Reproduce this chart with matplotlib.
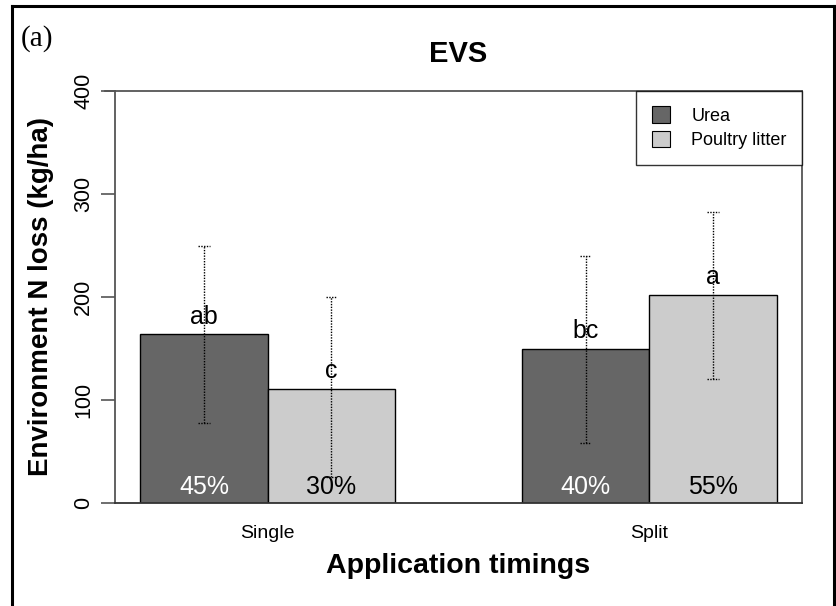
import matplotlib
matplotlib.use("Agg")
import matplotlib.pyplot as plt
from matplotlib.lines import Line2D
from matplotlib.patches import Patch

# Data
timings = ["Single", "Split"]
fertilizers = ["Urea", "Poultry litter"]
urea_mean = [164, 150]
litter_mean = [111, 202]
urea_low = [78, 58]
urea_high = [250, 240]
litter_low = [25, 120]
litter_high = [200, 283]
urea_letters = ["ab", "bc"]
litter_letters = ["c", "a"]
urea_share = ["45%", "40%"]
litter_share = ["30%", "55%"]
y_ticks = [0, 100, 200, 300, 400]

plt.rcParams["font.family"] = ["Liberation Sans", "DejaVu Sans"]

W, H = 836, 606
fig = plt.figure(figsize=(W / 100, H / 100), dpi=100)
ax = fig.add_axes([115 / W, 1 - 503 / H, (802 - 115) / W, (503 - 91) / H])

urea_col = "#666666"
litter_col = "#cccccc"
bw = 1.0
# R-style beside barplot: bars start at 1, one-bar gap between groups
urea_x = [1.5 + 3 * i for i in range(len(timings))]
litter_x = [x + bw for x in urea_x]

ax.bar(urea_x, urea_mean, width=bw, color=urea_col, edgecolor="black", linewidth=1.0, zorder=2)
ax.bar(litter_x, litter_mean, width=bw, color=litter_col, edgecolor="black", linewidth=1.0, zorder=2)

cap = 0.045
dots = (0, (1.0, 1.0))
for xs, lo, hi in ((urea_x, urea_low, urea_high), (litter_x, litter_low, litter_high)):
    ax.vlines(xs, lo, hi, colors="black", linestyles=[dots], linewidth=1.0, zorder=3)
    ax.hlines(lo, [x - cap for x in xs], [x + cap for x in xs], colors="black",
              linestyles=[dots], linewidth=1.0, zorder=3)
    ax.hlines(hi, [x - cap for x in xs], [x + cap for x in xs], colors="black",
              linestyles=[dots], linewidth=1.0, zorder=3)

for x, v, t in zip(urea_x, urea_mean, urea_letters):
    ax.text(x, v + 17, t, ha="center", va="center", fontsize=18, color="black", zorder=4)
for x, v, t in zip(litter_x, litter_mean, litter_letters):
    ax.text(x, v + 17, t, ha="center", va="center", fontsize=18, color="black", zorder=4)

for x, t in zip(urea_x, urea_share):
    ax.text(x, 16, t, ha="center", va="center", fontsize=18, color="white", zorder=4)
for x, t in zip(litter_x, litter_share):
    ax.text(x, 16, t, ha="center", va="center", fontsize=18, color="black", zorder=4)

ax.set_xlim(0.8, 6.2)
ax.set_ylim(0, 400)
ax.set_yticks(y_ticks)
ax.set_yticklabels([str(v) for v in y_ticks], rotation=90, va="center", fontsize=15.5)
group_centers = [(u + l) / 2 for u, l in zip(urea_x, litter_x)]
ax.set_xticks(group_centers)
ax.set_xticklabels(timings, fontsize=14)
ax.tick_params(axis="x", length=0, pad=16)
ax.tick_params(axis="y", length=10, width=1.2, color="#555555", pad=5)
for s in ax.spines.values():
    s.set_color("#555555")
    s.set_linewidth(1.3)
ax.spines["bottom"].set_color("#333333")

# carry the top box line over the tick length
ax.plot([-10 / 127 * 1.0 + 0.8, 0.8], [400, 400], color="#555555", lw=1.3, clip_on=False)

ax.set_title("EVS", fontsize=21, fontweight="bold", pad=21)
ax.set_xlabel("Application timings", fontsize=20.5, fontweight="bold", labelpad=8)
ax.set_ylabel("Environment N loss (kg/ha)", fontsize=20, fontweight="bold", labelpad=14)

handles = [Patch(facecolor=urea_col, edgecolor="black", linewidth=0.8),
           Patch(facecolor=litter_col, edgecolor="black", linewidth=0.8)]
leg = ax.legend(handles, fertilizers, loc="upper right", bbox_to_anchor=(1.0, 1.0),
                fontsize=13, frameon=True, fancybox=False, edgecolor="black",
                borderpad=0.85, handlelength=1.0, handleheight=1.0, handletextpad=1.2,
                labelspacing=0.35, borderaxespad=0)
leg.get_frame().set_linewidth(1.0)

fig.text(21 / W, 1 - 39 / H, "(a)", fontsize=21, family=["Liberation Serif", "DejaVu Serif"],
         ha="left", va="center")

# outer frame
for xs, ys in (([12 / W, 12 / W], [0, 1 - 6 / H]),
               ([12 / W, 834 / W], [1 - 6 / H, 1 - 6 / H]),
               ([834 / W, 834 / W], [0, 1 - 6 / H])):
    fig.add_artist(Line2D(xs, ys, transform=fig.transFigure, color="black", lw=2.2))

fig.savefig("out.png", dpi=100)
